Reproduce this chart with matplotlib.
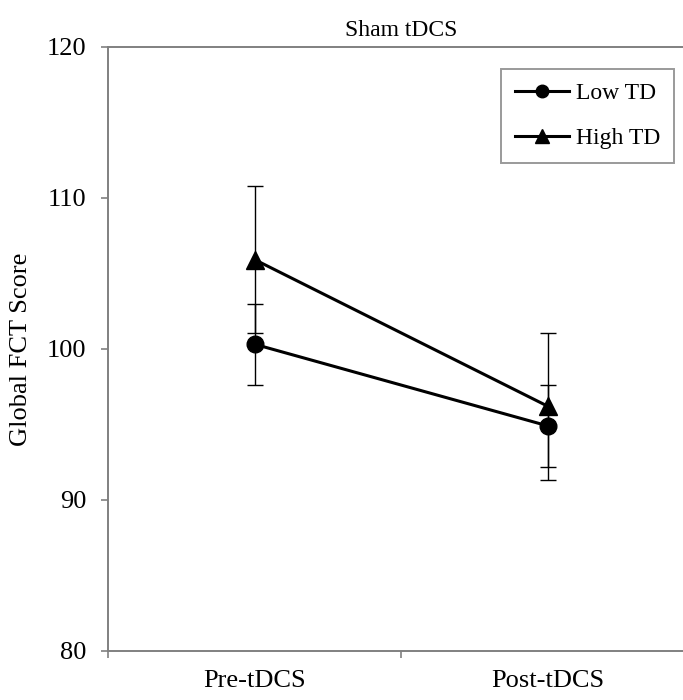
"""
Sham tDCS - Global FCT score, low vs high TD groups
"""

import matplotlib
matplotlib.use("Agg")
import matplotlib.pyplot as plt
import numpy as np

######################################################################
############################### Data #################################
######################################################################

sessions = ["Pre-tDCS", "Post-tDCS"]
groups = ["Low TD", "High TD"]
low_td = [100.3, 94.9]
low_td_err = [2.7, 2.7]
high_td = [105.9, 96.2]
high_td_err = [4.85, 4.85]

plt.rcParams['font.family'] = ['Liberation Serif', 'DejaVu Serif']

######################################################################
############################### Plot #################################
######################################################################

fig = plt.figure(figsize=(6.83, 7.0), dpi=100)
# axes runs past the right border, like the original export
ax = fig.add_axes([0.1586, 0.07, 0.858, 0.8633])

x = np.arange(len(sessions)) + 0.5

ax.errorbar(x, low_td, yerr=low_td_err, fmt='none', ecolor='black',
            elinewidth=1.0, capsize=6, capthick=1.0, zorder=2)
ax.errorbar(x, high_td, yerr=high_td_err, fmt='none', ecolor='black',
            elinewidth=1.0, capsize=6, capthick=1.0, zorder=2)
ax.plot(x, low_td, color='black', lw=2.2, marker='o', ms=12,
        label=groups[0], zorder=3)
ax.plot(x, high_td, color='black', lw=2.2, marker='^', ms=13,
        label=groups[1], zorder=3)

ax.set_xlim(0, 2)
ax.set_ylim(80, 120)
ax.set_yticks([80, 90, 100, 110, 120])

# category axis: ticks between categories, labels centred
ax.set_xticks([0, 1, 2])
ax.set_xticklabels([])
ax.set_xticks(x, minor=True)
ax.set_xticklabels(sessions, minor=True)
ax.tick_params(axis='x', which='minor', length=0, pad=14, labelsize=19)
ax.tick_params(axis='x', which='major', length=5, width=1.2,
               color='#808080', direction='out')
ax.tick_params(axis='y', length=5, width=1.2, color='#808080',
               direction='out', pad=11, labelsize=19)

for side in ['left', 'top', 'bottom']:
    ax.spines[side].set_color('#808080')
    ax.spines[side].set_linewidth(1.4)
ax.spines['right'].set_visible(False)

ax.set_title("Sham tDCS", fontsize=17, pad=8)
ax.set_ylabel("Global FCT Score", fontsize=19)
ax.yaxis.set_label_coords(-0.13, 0.5)

leg = ax.legend(loc='upper right', bbox_to_anchor=(0.9654, 0.963),
                borderaxespad=0, fontsize=17, frameon=True, fancybox=False,
                markerscale=0.75, handlelength=2.3, handletextpad=0.3,
                labelspacing=1.0, borderpad=0.58)
leg.get_frame().set_edgecolor('#808080')
leg.get_frame().set_linewidth(1.4)

fig.savefig("out.png", dpi=100)
